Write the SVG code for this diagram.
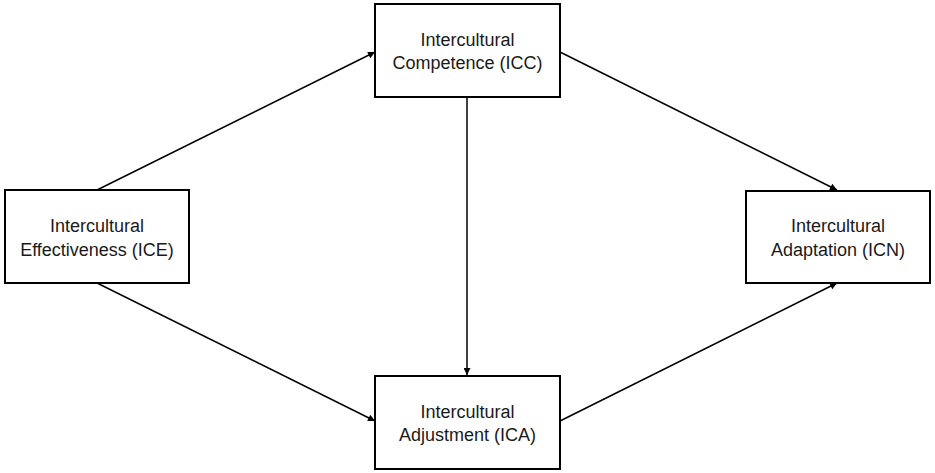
<svg xmlns="http://www.w3.org/2000/svg" width="935" height="473" viewBox="0 0 935 473">
<defs>
<style>
.box{fill:#fff;stroke:#000;stroke-width:2}
.lbl{font-family:"Liberation Sans",Arial,sans-serif;font-size:18px;fill:#1a1a1a;text-anchor:middle}
.edge{stroke:#000;stroke-width:1.5;fill:none;marker-end:url(#ah)}
</style>
<marker id="ah" viewBox="0 0 10 10" refX="10" refY="5" markerWidth="8" markerHeight="7" orient="auto" markerUnits="userSpaceOnUse">
<path d="M0,0 L10,5 L0,10 z" fill="#000"/>
</marker>
</defs>
<rect width="935" height="473" fill="#fff"/>
<g id="connectors">
<line class="edge" x1="97" y1="190" x2="375" y2="52"/>
<line class="edge" x1="97" y1="283" x2="375" y2="421"/>
<line class="edge" x1="467" y1="97" x2="467" y2="375"/>
<line class="edge" x1="560" y1="52" x2="837" y2="190"/>
<line class="edge" x1="560" y1="421" x2="837" y2="283"/>
</g>
<g id="ICC">
<rect class="box" x="375" y="4" width="185" height="93"/>
<text class="lbl" x="467.5" y="46">Intercultural</text>
<text class="lbl" x="467.5" y="69">Competence (ICC)</text>
</g>
<g id="ICE">
<rect class="box" x="5" y="190" width="184" height="93"/>
<text class="lbl" x="97" y="232">Intercultural</text>
<text class="lbl" x="97" y="256">Effectiveness (ICE)</text>
</g>
<g id="ICA">
<rect class="box" x="375" y="376" width="185" height="93"/>
<text class="lbl" x="467.5" y="418">Intercultural</text>
<text class="lbl" x="467.5" y="441">Adjustment (ICA)</text>
</g>
<g id="ICN">
<rect class="box" x="746" y="191" width="184" height="92"/>
<text class="lbl" x="838" y="232">Intercultural</text>
<text class="lbl" x="838" y="256">Adaptation (ICN)</text>
</g>
</svg>
